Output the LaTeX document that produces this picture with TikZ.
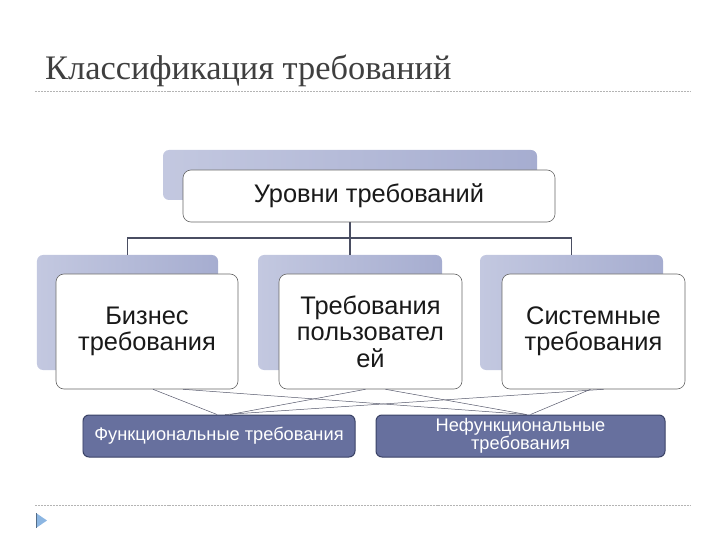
\documentclass[tikz,border=0pt]{standalone}
\usepackage{fontspec}
\setmainfont{Liberation Sans}
\newfontfamily\titlefont{Liberation Serif}
\usetikzlibrary{calc}
\definecolor{titlegray}{HTML}{3F3F3F}
\definecolor{dashgray}{HTML}{B4B4B4}
\definecolor{bgL}{HTML}{C3C8E0}
\definecolor{bgR}{HTML}{A6ADD0}
\definecolor{treecol}{HTML}{4A4E62}
\definecolor{linecol}{HTML}{55576A}
\definecolor{darkfill}{HTML}{67709E}
\definecolor{darkedge}{HTML}{3A4266}
\definecolor{markblue}{HTML}{8CB6E2}
\tikzset{
  bgbox/.style={rectangle, rounded corners=6bp, left color=bgL, right color=bgR, draw=none, inner sep=0},
  whitebox/.style={rectangle, rounded corners=8bp, fill=white, draw=black!60, line width=0.6pt, inner sep=0, align=center, text=black!90, font=\fontsize{25.5}{26.5}\selectfont},
  darkbox/.style={rectangle, rounded corners=6bp, fill=darkfill, draw=darkedge, line width=1pt, inner sep=0, align=center, text=white, font=\fontsize{18.3}{18}\selectfont, minimum height=42bp},
  tree/.style={draw=treecol, line width=1.6pt},
  thin/.style={draw=linecol, line width=0.5pt},
  dashline/.style={draw=dashgray, line width=0.8pt, dash pattern=on 2pt off 1pt}
}
\begin{document}
\begin{tikzpicture}[x=1bp,y=-1bp]
\useasboundingbox (0,0) rectangle (720,540);
% title
\node[anchor=base west, inner sep=0, text=titlegray, font=\titlefont\fontsize{34.5}{34.5}\selectfont] (title) at (45,80) {Классификация требований};
\coordinate (d1a) at (35,91);
\coordinate (d1b) at (690,91);
\draw[dashline] (d1a) -- (d1b);
% top
\node[bgbox, minimum width=374bp, minimum height=50bp] (topbg) at (350,175) {};
\node[bgbox, minimum width=181bp, minimum height=115bp] (bg1) at (127.5,312.5) {};
\node[bgbox, minimum width=184bp, minimum height=115bp] (bg2) at (350,312.5) {};
\node[bgbox, minimum width=183bp, minimum height=115bp] (bg3) at (571.5,312.5) {};
\coordinate (j) at (350,238);
\draw[tree] (topbg.south) -- (j);
\draw[tree] (bg1.north) |- (j) -| (bg3.north);
\draw[tree] (j) -- (bg2.north);
\node[whitebox, minimum width=372bp, minimum height=52bp] (top) at (369,196) {Уровни требований};
\node[whitebox, minimum width=182bp, minimum height=115bp] (b1) at (147,331.5) {Бизнес\\требования};
\node[whitebox, minimum width=183bp, minimum height=115bp] (b2) at (370.5,331.5) {Требования\\пользовател\\ей};
\node[whitebox, minimum width=183bp, minimum height=115bp] (b3) at (593.5,331.5) {Системные\\требования};
% bottom boxes
\node[darkbox, minimum width=272bp] (f) at (219,436) {Функциональные требования};
\node[darkbox, minimum width=289bp] (nf) at (520.5,436) {Нефункциональные\\требования};
% links
\draw[thin] ($(b1.south)+(6,0)$) -- ($(f.north)+(-2,0)$);
\draw[thin] ($(b1.south)+(36,0)$) -- ($(nf.north)+(6,0)$);
\draw[thin] ($(b2.south)+(-5,0)$) -- ($(f.north)+(11,0)$);
\draw[thin] ($(b2.south)+(15,0)$) -- ($(nf.north)+(6,0)$);
\draw[thin] ($(b3.south)+(10,0)$) -- ($(f.north)+(6,0)$);
\draw[thin] ($(b3.south)+(-3,0)$) -- ($(nf.north)+(10,0)$);
% bottom rule and marker
\coordinate (d2a) at (35,505);
\coordinate (d2b) at (690,505);
\draw[dashline] (d2a) -- (d2b);
\fill[markblue] (36,513) -- (47,520.5) -- (36,528) -- cycle;
\draw[markblue!60!black, line width=0.6pt] (36,513) -- (36,528);
\end{tikzpicture}
\end{document}
